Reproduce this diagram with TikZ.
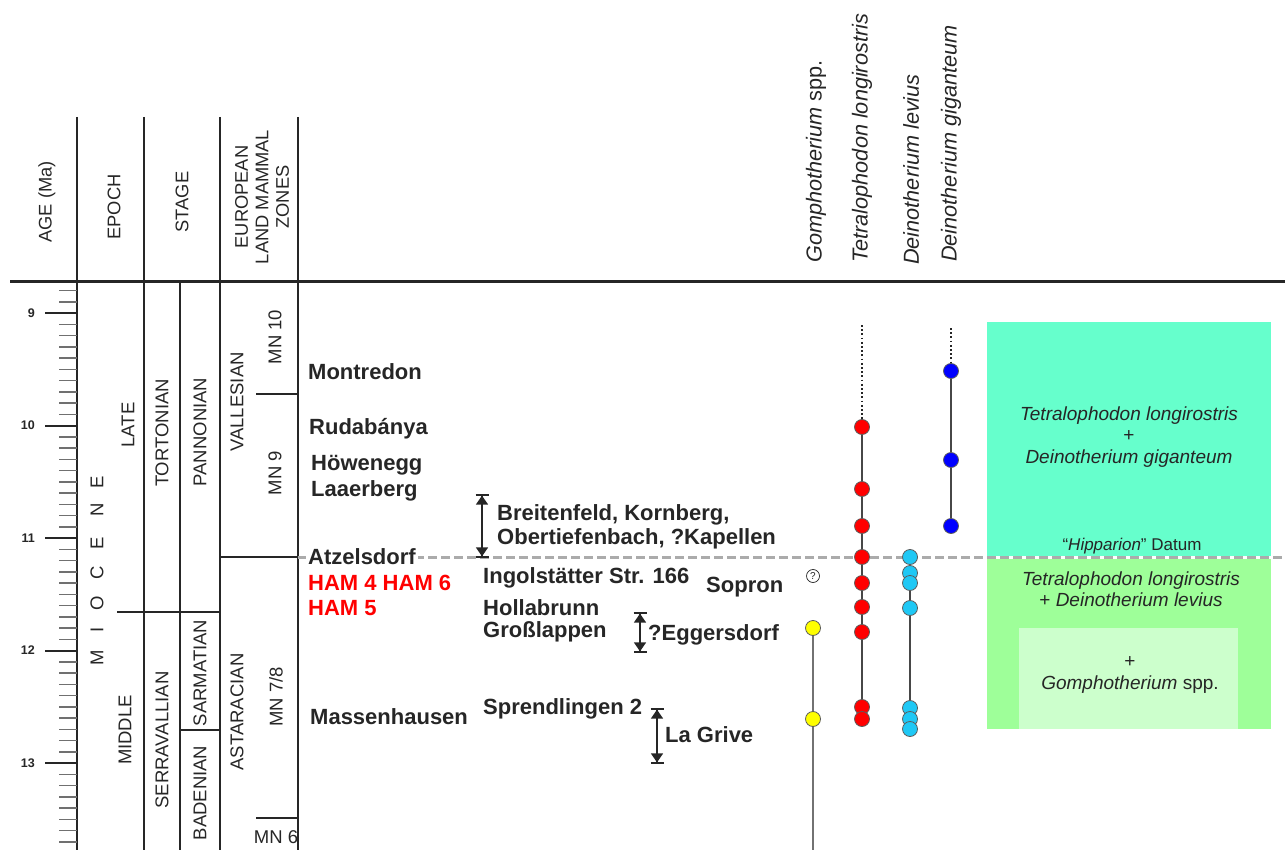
\documentclass[tikz,border=0pt]{standalone}
\usepackage{fontspec}
\setmainfont{Liberation Sans}
\usetikzlibrary{arrows.meta,backgrounds}
\definecolor{ink}{HTML}{262626}
\definecolor{tealbox}{HTML}{66FFCC}
\definecolor{greenbox}{HTML}{9EFF99}
\definecolor{lightbox}{HTML}{CCFFCC}
\definecolor{dred}{HTML}{FF0000}
\definecolor{dblue}{HTML}{0000FF}
\definecolor{dcyan}{HTML}{1FC8F5}
\definecolor{dyellow}{HTML}{FFFF00}
\definecolor{datumgray}{HTML}{ABABAB}
\definecolor{minorgray}{HTML}{707070}
\newcommand\myfs[1]{\fontsize{#1}{#1}\selectfont}
\begin{document}
\begin{tikzpicture}[x=1pt,y=-1pt,
  site/.style={font=\bfseries\myfs{22}, text=ink, anchor=base west, inner sep=0pt},
  hsite/.style={site, text=dred},
  colhead/.style={rotate=90, font=\fontsize{18.3}{20.5}\selectfont, text=ink, align=center, inner sep=0pt},
  sphead/.style={rotate=90, anchor=west, font=\itshape\myfs{21.7}, text=ink, inner sep=0pt},
  stg/.style={rotate=90, font=\myfs{18.5}, text=ink, inner sep=0pt},
  gridline/.style={draw=ink, line width=2.4pt},
  bnd/.style={draw=ink, line width=2pt},
  minortick/.style={draw=minorgray, line width=1.5pt},
  majortick/.style={draw=ink, line width=2pt},
  dot/.style={circle, draw=ink!75, line width=0.8pt, minimum size=15pt, inner sep=0pt},
  rangebar/.style={draw=ink, line width=1.4pt,
    {Bar[width=13pt,line width=1.6pt]Triangle[length=9pt,width=12pt]}-{Triangle[length=9pt,width=12pt]Bar[width=13pt,line width=1.6pt]}},
  boxtxt/.style={font=\itshape\fontsize{19}{21.5}\selectfont, text=ink, align=center, inner sep=0pt},
  life/.style={draw=ink!85, line width=1.4pt},
  lifedot/.style={draw=ink, line width=1.6pt, dash pattern=on 1.8pt off 2.4pt},
]
\useasboundingbox (0,0) rectangle (1285,853);

% ---- frame
\draw[gridline, line width=3pt] (10,281) -- (1285,281);
\foreach \xx in {77,144,220,298} \draw[gridline] (\xx,117) -- (\xx,850);
\draw[gridline] (180,281) -- (180,850);
\draw[bnd] (117,612) -- (220,612);
\draw[bnd] (180,730) -- (220,730);
\draw[bnd] (256,394) -- (298,394);
\draw[bnd, line width=2.4pt] (220,557) -- (298,557);
\draw[bnd] (256,818) -- (298,818);

% ---- age ticks
\foreach \i in {0,...,49} \draw[minortick] (59,{290.5+\i*11.25}) -- (77,{290.5+\i*11.25});
\foreach \a in {9,...,13} {
  \draw[majortick] (45,{313+(\a-9)*112.5}) -- (77,{313+(\a-9)*112.5});
  \node[font=\bfseries\myfs{12.5}, text=ink, anchor=east, inner sep=0pt] (age\a) at (35,{313+(\a-9)*112.5}) {\a};
}

% ---- column headings
\node[colhead] (hage) at (47,202) {AGE (Ma)};
\node[colhead] (hepoch) at (114,207) {EPOCH};
\node[colhead] (hstage) at (182,202) {STAGE};
\node[colhead] (hzone) at (262,197) {EUROPEAN\\LAND MAMMAL\\ZONES};

% ---- epoch
\foreach \l/\yy [count=\k] in {M/658, I/630, O/603, C/573, E/543, N/510, E/482}
  \node[stg] (ep\k) at (97,\yy) {\l};
\node[stg] (late) at (128,425) {LATE};
\node[stg] (middle) at (125,730) {MIDDLE};

% ---- stages and zones
\node[stg] (tort) at (162,433) {TORTONIAN};
\node[stg] (pann) at (200,432) {PANNONIAN};
\node[stg] (serr) at (162,740) {SERRAVALLIAN};
\node[stg] (sarm) at (200,673) {SARMATIAN};
\node[stg] (bade) at (200,793) {BADENIAN};
\node[stg] (vall) at (237,402) {VALLESIAN};
\node[stg] (asta) at (237,712) {ASTARACIAN};
\node[stg] (mn10) at (275,337) {MN 10};
\node[stg] (mn9) at (275,473) {MN 9};
\node[stg] (mn78) at (276,697) {MN 7/8};
\node[font=\myfs{18.5}, text=ink, inner sep=0pt] (mn6) at (276,837) {MN 6};

% ---- species headings
\node[sphead] (hgom) at (816,263) {Gomphotherium {\upshape spp.}};
\node[sphead] (htet) at (862,263) {Tetralophodon longirostris};
\node[sphead] (hlev) at (911,265) {Deinotherium levius};
\node[sphead] (hgig) at (951,262) {Deinotherium giganteum};

% ---- boxes
\fill[tealbox] (987,322) rectangle (1271,557);
\fill[greenbox] (987,557) rectangle (1271,729);
\fill[lightbox] (1019,628) rectangle (1238,729);
\node[boxtxt] (bt1) at (1129,437) {Tetralophodon longirostris\\{\upshape+}\\Deinotherium giganteum};
\node[font=\myfs{17}, text=ink, inner sep=0pt] (datum) at (1132,546) {“\textit{Hipparion}” Datum};
\node[boxtxt] (bt2) at (1131,589) {Tetralophodon longirostris\\{\upshape+} Deinotherium levius};
\node[boxtxt] (bt3) at (1130,675) {{\upshape+}\\Gomphotherium {\upshape spp.}};

% ---- datum line
\draw[white, line width=3pt] (298,557) -- (1285,557);
\draw[datumgray, line width=3pt, dash pattern=on 9pt off 4pt] (298,557) -- (1285,557);

% ---- sites
\node[site] (montredon) at (308,379.5) {Montredon};
\node[site] (rudabanya) at (309,434.5) {Rudabánya};
\node[site] (howenegg) at (311,470.5) {Höwenegg};
\node[site] (laaerberg) at (311,496.5) {Laaerberg};
\node[site, fill=white, inner xsep=2pt] (atzelsdorf) at (306,564.5) {Atzelsdorf};
\node[hsite] (ham46) at (308,590.5) {HAM 4 HAM 6};
\node[hsite] (ham5) at (308,615) {HAM 5};
\node[site] (ingol) at (483,583) {Ingolstätter Str. 166};
\node[site] (sopron) at (706,592) {Sopron};
\node[site] (holla) at (483,615) {Hollabrunn};
\node[site] (gross) at (483,637) {Großlappen};
\node[site] (egger) at (648,640) {?Eggersdorf};
\node[site] (massen) at (310,724) {Massenhausen};
\node[site] (sprend) at (483,714) {Sprendlingen 2};
\node[site] (lagrive) at (665,742) {La Grive};
\node[site, anchor=west, align=left, font=\bfseries\fontsize{22}{23.5}\selectfont] (breit) at (497,527)
  {Breitenfeld, Kornberg,\\Obertiefenbach, ?Kapellen};

% ---- range bars
\coordinate (r1a) at (482,494); \coordinate (r1b) at (482,558);
\coordinate (r2a) at (640,612); \coordinate (r2b) at (640,653);
\coordinate (r3a) at (657,708); \coordinate (r3b) at (657,764);
\draw[rangebar] (r1a) -- (r1b);
\draw[rangebar] (r2a) -- (r2b);
\draw[rangebar] (r3a) -- (r3b);

% ---- occurrence dots
\foreach \yy [count=\k] in {427,489,526,557,583,607,632,707,719}
  \node[dot, fill=dred] (t\k) at (862,\yy) {};
\foreach \yy [count=\k] in {557,573,583,608,708,719,729}
  \node[dot, fill=dcyan] (l\k) at (910,\yy) {};
\foreach \yy [count=\k] in {371,460,526}
  \node[dot, fill=dblue] (g\k) at (951,\yy) {};
\foreach \yy [count=\k] in {628,719}
  \node[dot, fill=dyellow] (y\k) at (813,\yy) {};
\node[circle, draw=ink, line width=0.7pt, minimum size=13pt, inner sep=0pt, font=\myfs{10}, text=ink] (gq) at (813,576) {?};
\coordinate (tTop) at (862,325);
\coordinate (gTop) at (951,328);
\coordinate (yEnd) at (813,850);

\begin{scope}[on background layer]
  \draw[lifedot] (tTop) -- (t1.center);
  \draw[life] (t1.center) -- (t9.center);
  \draw[life] (l1.center) -- (l7.center);
  \draw[lifedot] (gTop) -- (g1.center);
  \draw[life] (g1.center) -- (g3.center);
  \draw[life, draw=ink!65] (y1.center) -- (yEnd);
\end{scope}
\end{tikzpicture}
\end{document}
